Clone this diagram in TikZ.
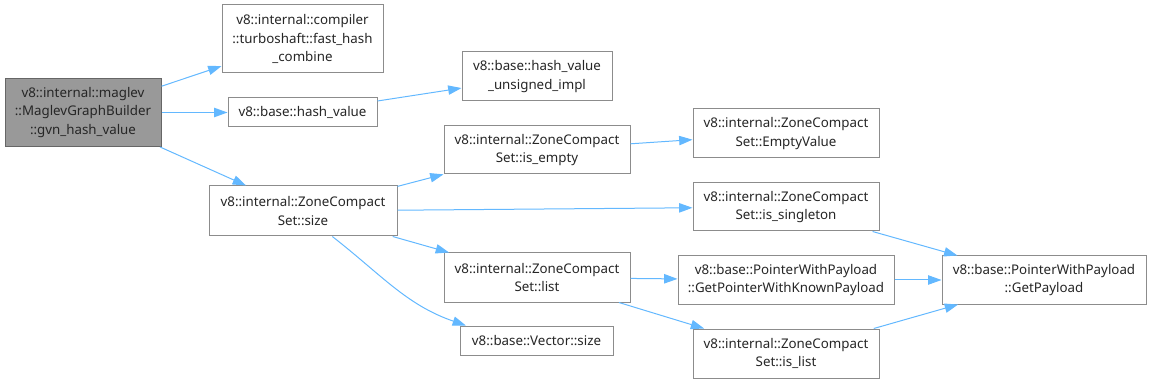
\documentclass[tikz,border=0pt]{standalone}
\usepackage{fontspec}
\setmainfont{Noto Sans}
\usetikzlibrary{arrows.meta,positioning}

\definecolor{edgeblue}{HTML}{63B8FF}
\definecolor{boxline}{HTML}{8C8C8C}
\definecolor{mainfill}{HTML}{999999}
\definecolor{mainline}{HTML}{666666}

\begin{document}
\begin{tikzpicture}[
  x=0.75pt, y=-0.75pt,
  fn/.style={draw=boxline, line width=0.75pt, fill=white, align=center,
             inner sep=2pt, minimum width=139.5pt, minimum height=36pt,
             font=\fontsize{10pt}{13.9pt}\selectfont, text=black!85},
  cur/.style={fn, fill=mainfill, draw=mainline},
  ar/.style={-{Triangle[length=10pt, width=7pt]}, draw=edgeblue,
             line width=0.75pt}
]
  \useasboundingbox (0,0) rectangle (1151,384);

  % caller
  \node[cur, minimum width=117pt, minimum height=51pt] (gvn) at (83,112.5)
    {v8::internal::maglev\\::MaglevGraphBuilder\\::gvn\_hash\_value};

  % direct callees
  \node[fn, minimum width=120.75pt, minimum height=51pt] (fhc) at (302.5,39)
    {v8::internal::compiler\\::turboshaft::fast\_hash\\\_combine};
  \node[fn, minimum width=111.75pt, minimum height=21.75pt] (hval) at (302.5,112.5)
    {v8::base::hash\_value};
  \node[fn, minimum width=141pt, minimum height=37.5pt] (size) at (303,211)
    {v8::internal::ZoneCompact\\Set::size};

  % second level
  \node[fn, minimum width=112.5pt, minimum height=36.75pt] (uimpl) at (537,76.5)
    {v8::base::hash\_value\\\_unsigned\_impl};
  \node[fn] (empty) at (537,150) {v8::internal::ZoneCompact\\Set::is\_empty};
  \node[fn, minimum height=36.75pt] (lst) at (537,277.5)
    {v8::internal::ZoneCompact\\Set::list};
  \node[fn, minimum width=114.75pt, minimum height=21.75pt] (vsize) at (536.5,340.5)
    {v8::base::Vector::size};

  % third level
  \node[fn, minimum height=36.75pt] (emptyv) at (786,133.5)
    {v8::internal::ZoneCompact\\Set::EmptyValue};
  \node[fn] (single) at (786,207)
    {v8::internal::ZoneCompact\\Set::is\_singleton};
  \node[fn, minimum width=162pt] (gpwkp) at (786,280)
    {v8::base::PointerWithPayload\\::GetPointerWithKnownPayload};
  \node[fn, minimum height=36.75pt] (islist) at (786,353.5)
    {v8::internal::ZoneCompact\\Set::is\_list};
  \node[fn, minimum width=153pt] (gpay) at (1044,280)
    {v8::base::PointerWithPayload\\::GetPayload};

  \draw[ar] (gvn) -- (fhc);
  \draw[ar] (gvn) -- (hval);
  \draw[ar] (gvn) -- (size);
  \draw[ar] (hval) -- (uimpl);
  \draw[ar] (size) -- (empty);
  \draw[ar] (size) -- (single);
  \draw[ar] (size) -- (lst);
  \draw[ar] (size.-41) to[out=-38, in=161] (vsize.168);
  \draw[ar] (empty) -- (emptyv);
  \draw[ar] (single) -- (gpay);
  \draw[ar] (lst) -- (gpwkp);
  \draw[ar] (lst) -- (islist);
  \draw[ar] (gpwkp) -- (gpay);
  \draw[ar] (islist) -- (gpay);
\end{tikzpicture}
\end{document}
